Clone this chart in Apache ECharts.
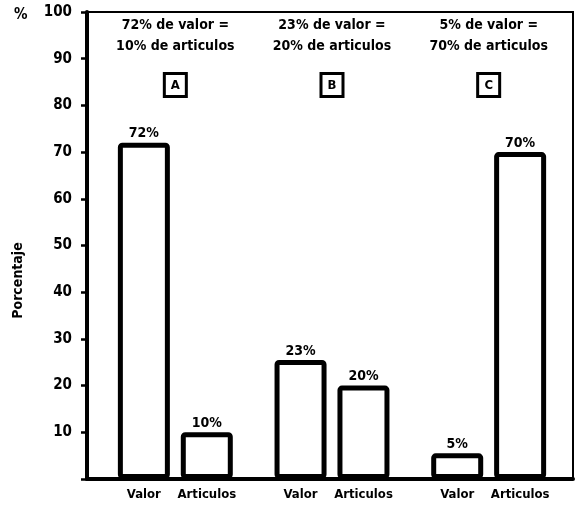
<!DOCTYPE html>
<html>
<head>
<meta charset="utf-8">
<script src="https://cdn.jsdelivr.net/npm/echarts@6/dist/echarts.min.js"></script>
<style>
html,body{margin:0;padding:0;background:#fff;}
#chart{width:576px;height:509px;}
</style>
</head>
<body>
<div id="chart"></div>
<script>
// ---- data ----
const groups = ['A', 'B', 'C'];
const titleLine1 = ['72% de valor =', '23% de valor =', '5% de valor ='];
const titleLine2 = ['10% de articulos', '20% de articulos', '70% de articulos'];
const seriesNames = ['Valor', 'Articulos'];
const valorValues = [72, 25.5, 5.5];
const articulosValues = [10, 20, 70];
const valorLabels = ['72%', '23%', '5%'];
const articulosLabels = ['10%', '20%', '70%'];
const yMin = 0, yMax = 100, yStep = 10;

const FONT = '"Liberation Sans Narrow", "DejaVu Sans Condensed", "Roboto Condensed", "Roboto", sans-serif';

const chart = echarts.init(document.getElementById('chart'));

function barSeries(name, values, labels) {
  return {
    name: name,
    type: 'bar',
    xAxisIndex: 1,
    yAxisIndex: 1,
    data: values,
    barWidth: 52,
    barGap: '21%',
    itemStyle: { color: '#fff', borderColor: '#000', borderWidth: 5, borderRadius: 2 },
    label: {
      show: true,
      position: 'top',
      distance: 2,
      formatter: p => labels[p.dataIndex],
      fontFamily: FONT, fontWeight: 'bold', fontSize: 14, color: '#000'
    },
    silent: true,
    animation: false
  };
}

chart.setOption({
  animation: false,
  title: {
    text: '%', left: 9, top: 3,
    textStyle: { fontFamily: FONT, fontWeight: 'bold', fontSize: 15, color: '#000' }
  },
  grid: [
    { left: 87, right: 3, top: 12, bottom: 30, show: true, borderColor: '#000', borderWidth: 2, containLabel: false },
    { left: 97, right: 9, top: 12, bottom: 30, containLabel: false }
  ],
  xAxis: [
    { type: 'category', gridIndex: 0, data: groups, boundaryGap: true,
      axisLine: { show: true, lineStyle: { color: '#000', width: 4 } },
      axisTick: { show: false }, axisLabel: { show: false }, splitLine: { show: false } },
    { type: 'category', gridIndex: 1, data: groups, position: 'bottom',
      axisLine: { show: false }, axisTick: { show: false }, splitLine: { show: false },
      axisLabel: {
        margin: 9,
        formatter: () => '{v|' + seriesNames[0] + '}{a|' + seriesNames[1] + '}',
        rich: {
          v: { width: 63, align: 'center', fontFamily: FONT, fontWeight: 'bold', fontSize: 13, color: '#000' },
          a: { width: 63, align: 'center', fontFamily: FONT, fontWeight: 'bold', fontSize: 13, color: '#000' }
        }
      } },
    { type: 'category', gridIndex: 1, data: groups, position: 'top',
      axisLine: { show: false }, axisTick: { show: false }, splitLine: { show: false },
      axisLabel: {
        inside: true,
        margin: 3,
        formatter: (v, i) => '{t|' + titleLine1[i] + '}\n{t|' + titleLine2[i] + '}\n{g|}\n{b|' + v + '}',
        rich: {
          t: { fontFamily: FONT, fontWeight: 'bold', fontSize: 14, lineHeight: 21, color: '#000', align: 'center' },
          g: { height: 18, lineHeight: 18 },
          b: { fontFamily: FONT, fontWeight: 'bold', fontSize: 13, color: '#000', width: 20, height: 20, lineHeight: 20,
               align: 'center', borderColor: '#000', borderWidth: 3, padding: [2, 1, 1, 1] }
        }
      } }
  ],
  yAxis: [
    { type: 'value', gridIndex: 0, min: yMin, max: yMax, interval: yStep,
      name: 'Porcentaje', nameLocation: 'middle', nameRotate: 90, nameGap: 62,
      nameTextStyle: { fontFamily: FONT, fontWeight: 'bold', fontSize: 14, color: '#000', padding: [0, 70, 0, 0] },
      axisLine: { show: true, lineStyle: { color: '#000', width: 4 } },
      axisTick: { show: true, length: 6, lineStyle: { color: '#000', width: 2.5 } },
      splitLine: { show: false },
      axisLabel: { margin: 15, fontFamily: FONT, fontWeight: 'bold', fontSize: 15, color: '#000',
                   formatter: v => (v === 0 ? '' : String(v)) } },
    { type: 'value', gridIndex: 1, min: yMin, max: yMax, interval: yStep, show: false }
  ],
  series: [
    barSeries(seriesNames[0], valorValues, valorLabels),
    barSeries(seriesNames[1], articulosValues, articulosLabels)
  ]
});
</script>
</body>
</html>
